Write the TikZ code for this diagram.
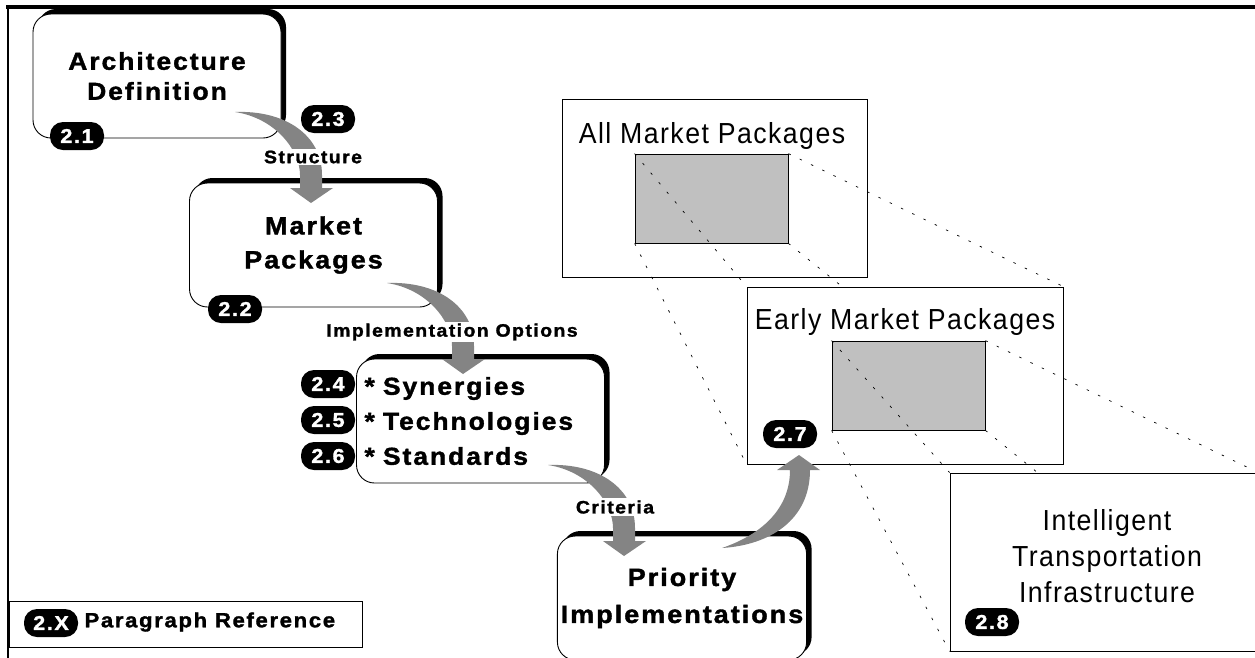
\documentclass[tikz,border=0pt]{standalone}
\usepackage{fontspec}
\setmainfont{Liberation Sans}
\newfontfamily\spacedfont[LetterSpace=8, FakeStretch=1.08, FakeBold=1.5]{Liberation Sans}
\newfontfamily\widefont[LetterSpace=5, FakeStretch=0.92]{Liberation Sans}
\usetikzlibrary{shadows}
\definecolor{arrowgray}{HTML}{848484}
\definecolor{selgray}{HTML}{C0C0C0}
\pgfdeclarelayer{back}
\pgfdeclarelayer{mid}
\pgfsetlayers{back,mid,main}
\tikzset{
  boldtext/.style 2 args={font=\spacedfont\bfseries\fontsize{#1}{#2}\selectfont},
  flowbox/.style={draw, fill=white, line width=0.9pt, rounded corners=18pt,
    minimum width=248pt, minimum height=124pt,
    drop shadow={shadow xshift=5pt, shadow yshift=5pt, fill=black, opacity=1}},
  badge/.style={fill=black, text=white, rounded corners=13pt, minimum width=54pt,
    minimum height=28pt, inner sep=0pt, boldtext={20}{20}},
  flowlabel/.style={fill=white, inner sep=2pt, boldtext={18}{21}},
  panel/.style={draw, fill=white, line width=0.8pt, inner sep=0pt},
  paneltext/.style={font=\widefont\fontsize{29}{36}\selectfont},
  selbox/.style={draw, fill=selgray, line width=0.8pt, inner sep=0pt,
    minimum width=153pt, minimum height=89pt},
  proj/.style={draw, line width=0.7pt, dash pattern=on 2.5pt off 10pt},
  downflow/.pic={
    \fill[arrowgray] (0,0) .. controls (50,-2) and (87,23) .. (87,63) -- (87,76)
      -- (98,76) -- (76,91) -- (55,76) -- (65,76) -- (65,63)
      .. controls (65,38) and (40,6) .. (0,0) -- cycle;
  },
  upflow/.pic={
    \fill[arrowgray] (0,0) .. controls (48,-3) and (88,-28) .. (88,-78)
      -- (98,-78) -- (77,-93) -- (55,-78) -- (68,-78)
      .. controls (68,-38) and (38,-13) .. (0,0) -- cycle;
  }
}

\begin{document}
\begin{tikzpicture}[x=1pt, y=-1pt]
\useasboundingbox (0,0) rectangle (1255,657);

\draw[line width=3.5pt] (6,7) -- (1260,7);
\draw[line width=2pt] (8,7) -- (8,660);

\begin{pgfonlayer}{back}
  \node[panel, minimum width=305pt, minimum height=178pt] (allbox) at (714.5,188) {};
  \node[paneltext] (alltext) at (712,136) {All Market Packages};
  \node[selbox] (allsel) at (711.5,198.5) {};
\end{pgfonlayer}
\begin{pgfonlayer}{mid}
  \node[panel, minimum width=316pt, minimum height=177pt] (earlybox) at (905,375.5) {};
  \node[paneltext] (earlytext) at (905,322) {Early Market Packages};
  \node[selbox] (earlysel) at (908.5,385.5) {};
  \node[badge] (b27) at (790,434) {2.7};
\end{pgfonlayer}
\begin{pgfonlayer}{back}
  \draw[proj] (allsel.north west) -- (earlybox.north west);
  \draw[proj] (allsel.north east) -- (earlybox.north east);
  \draw[proj] (allsel.south west) -- (earlybox.south west);
  \draw[proj] (allsel.south east) -- (earlybox.south east);
\end{pgfonlayer}
\node[panel, minimum width=308pt, minimum height=178pt] (itsbox) at (1104,562) {};
\node[paneltext, align=center] (itstext) at (1107,556) {Intelligent\\Transportation\\Infrastructure};
\node[badge] (b28) at (992,622) {2.8};
\begin{pgfonlayer}{mid}
  \draw[proj] (earlysel.north west) -- (itsbox.north west);
  \draw[proj] (earlysel.north east) -- (itsbox.north east);
  \draw[proj] (earlysel.south west) -- (itsbox.south west);
  \draw[proj] (earlysel.south east) -- (itsbox.south east);
\end{pgfonlayer}

\node[flowbox, boldtext={24.5}{30}, align=center] (arch) at (157,76) {Architecture\\Definition};
\node[flowbox, boldtext={25}{34}, align=center] (mkt) at (313.5,245) {Market\\Packages};
\node[flowbox, boldtext={24.5}{35}, align=left, text width=232pt] (opts) at (480.5,421) {{*} Synergies\\{*} Technologies\\{*} Standards};
\node[flowbox, boldtext={25}{37}, align=center] (prio) at (682,598) {Priority\\Implementations};

\node[badge] (b21) at (77,136) {2.1};
\node[badge] (b22) at (235,309) {2.2};
\node[badge] (b23) at (328,119) {2.3};
\node[badge] (b24) at (328,384) {2.4};
\node[badge] (b25) at (328,420) {2.5};
\node[badge] (b26) at (328,456) {2.6};

\coordinate (archout) at (235,112);
\coordinate (mktout) at (387,283);
\coordinate (optout) at (548,465);
\coordinate (prioout) at (722,548);
\pic at (archout) {downflow};
\pic at (mktout) {downflow};
\pic at (optout) {downflow};
\pic at (prioout) {upflow};
\node[flowlabel] (lstruct) at (313,157) {Structure};
\node[flowlabel] (lopts) at (452,332) {Implementation Options};
\node[flowlabel] (lcrit) at (615,507) {Criteria};

\node[panel, anchor=north west, minimum width=353pt, minimum height=46pt] (legend) at (9,601) {};
\node[badge] (b2x) at (51,623) {2.X};
\node[boldtext={20.5}{22}, anchor=west] (legtext) at (81,622) {Paragraph Reference};
\end{tikzpicture}
\end{document}
